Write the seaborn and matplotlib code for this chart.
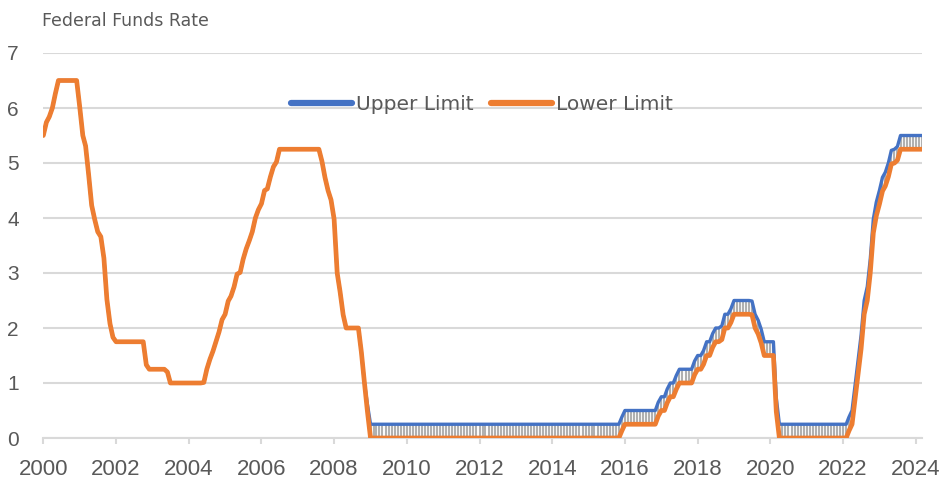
import numpy as np
import pandas as pd
import matplotlib
matplotlib.use("Agg")
import matplotlib.pyplot as plt
import seaborn as sns

# Fed funds target, monthly average, single target Jan 2000 - Nov 2008
target_2000_2008 = [
    5.5, 5.74, 5.84, 6.0, 6.26, 6.5, 6.5, 6.5, 6.5, 6.5, 6.5, 6.5,            # 2000
    6.02, 5.5, 5.31, 4.78, 4.23, 3.97, 3.75, 3.66, 3.27, 2.52, 2.08, 1.83,    # 2001
    1.75, 1.75, 1.75, 1.75, 1.75, 1.75, 1.75, 1.75, 1.75, 1.75, 1.33, 1.25,   # 2002
    1.25, 1.25, 1.25, 1.25, 1.25, 1.2, 1.0, 1.0, 1.0, 1.0, 1.0, 1.0,          # 2003
    1.0, 1.0, 1.0, 1.0, 1.0, 1.01, 1.25, 1.43, 1.58, 1.75, 1.93, 2.15,        # 2004
    2.25, 2.49, 2.58, 2.75, 2.98, 3.01, 3.25, 3.44, 3.59, 3.75, 4.0, 4.15,    # 2005
    4.26, 4.5, 4.53, 4.75, 4.93, 5.02, 5.25, 5.25, 5.25, 5.25, 5.25, 5.25,    # 2006
    5.25, 5.25, 5.25, 5.25, 5.25, 5.25, 5.25, 5.25, 5.03, 4.74, 4.5, 4.33,    # 2007
    3.98, 3.0, 2.66, 2.24, 2.0, 2.0, 2.0, 2.0, 2.0, 1.56, 1.0,                # 2008 (to Nov)
]

# target range, monthly average, Dec 2008 - Mar 2024
lower_2008_2024 = [
    0.48,                                                                     # Dec 2008
    0, 0, 0, 0, 0, 0, 0, 0, 0, 0, 0, 0,                                       # 2009
    0, 0, 0, 0, 0, 0, 0, 0, 0, 0, 0, 0,                                       # 2010
    0, 0, 0, 0, 0, 0, 0, 0, 0, 0, 0, 0,                                       # 2011
    0, 0, 0, 0, 0, 0, 0, 0, 0, 0, 0, 0,                                       # 2012
    0, 0, 0, 0, 0, 0, 0, 0, 0, 0, 0, 0,                                       # 2013
    0, 0, 0, 0, 0, 0, 0, 0, 0, 0, 0, 0,                                       # 2014
    0, 0, 0, 0, 0, 0, 0, 0, 0, 0, 0, 0.13,                                    # 2015
    0.25, 0.25, 0.25, 0.25, 0.25, 0.25, 0.25, 0.25, 0.25, 0.25, 0.25, 0.4,    # 2016
    0.5, 0.5, 0.64, 0.75, 0.75, 0.89, 1.0, 1.0, 1.0, 1.0, 1.0, 1.15,          # 2017
    1.25, 1.25, 1.34, 1.5, 1.5, 1.65, 1.75, 1.75, 1.79, 2.0, 2.0, 2.1,        # 2018
    2.25, 2.25, 2.25, 2.25, 2.25, 2.25, 2.24, 2.0, 1.89, 1.73, 1.5, 1.5,      # 2019
    1.5, 1.5, 0.48, 0, 0, 0, 0, 0, 0, 0, 0, 0,                                # 2020
    0, 0, 0, 0, 0, 0, 0, 0, 0, 0, 0, 0,                                       # 2021
    0, 0, 0.13, 0.25, 0.7, 1.15, 1.62, 2.25, 2.5, 3.0, 3.73, 4.04,            # 2022
    4.25, 4.49, 4.58, 4.75, 4.98, 5.0, 5.05, 5.25, 5.25, 5.25, 5.25, 5.25,    # 2023
    5.25, 5.25, 5.25,                                                         # 2024
]
upper_2008_2024 = [
    0.61,                                                                     # Dec 2008
    0.25, 0.25, 0.25, 0.25, 0.25, 0.25, 0.25, 0.25, 0.25, 0.25, 0.25, 0.25,   # 2009
    0.25, 0.25, 0.25, 0.25, 0.25, 0.25, 0.25, 0.25, 0.25, 0.25, 0.25, 0.25,   # 2010
    0.25, 0.25, 0.25, 0.25, 0.25, 0.25, 0.25, 0.25, 0.25, 0.25, 0.25, 0.25,   # 2011
    0.25, 0.25, 0.25, 0.25, 0.25, 0.25, 0.25, 0.25, 0.25, 0.25, 0.25, 0.25,   # 2012
    0.25, 0.25, 0.25, 0.25, 0.25, 0.25, 0.25, 0.25, 0.25, 0.25, 0.25, 0.25,   # 2013
    0.25, 0.25, 0.25, 0.25, 0.25, 0.25, 0.25, 0.25, 0.25, 0.25, 0.25, 0.25,   # 2014
    0.25, 0.25, 0.25, 0.25, 0.25, 0.25, 0.25, 0.25, 0.25, 0.25, 0.25, 0.38,   # 2015
    0.5, 0.5, 0.5, 0.5, 0.5, 0.5, 0.5, 0.5, 0.5, 0.5, 0.5, 0.65,              # 2016
    0.75, 0.75, 0.89, 1.0, 1.0, 1.14, 1.25, 1.25, 1.25, 1.25, 1.25, 1.4,      # 2017
    1.5, 1.5, 1.59, 1.75, 1.75, 1.9, 2.0, 2.0, 2.04, 2.25, 2.25, 2.35,        # 2018
    2.5, 2.5, 2.5, 2.5, 2.5, 2.5, 2.49, 2.25, 2.14, 1.98, 1.75, 1.75,         # 2019
    1.75, 1.75, 0.73, 0.25, 0.25, 0.25, 0.25, 0.25, 0.25, 0.25, 0.25, 0.25,   # 2020
    0.25, 0.25, 0.25, 0.25, 0.25, 0.25, 0.25, 0.25, 0.25, 0.25, 0.25, 0.25,   # 2021
    0.25, 0.25, 0.38, 0.5, 0.95, 1.4, 1.87, 2.5, 2.75, 3.25, 3.98, 4.29,      # 2022
    4.5, 4.74, 4.83, 5.0, 5.23, 5.25, 5.3, 5.5, 5.5, 5.5, 5.5, 5.5,           # 2023
    5.5, 5.5, 5.5,                                                            # 2024
]

year_ticks = [2000, 2002, 2004, 2006, 2008, 2010, 2012, 2014, 2016, 2018, 2020, 2022, 2024]
rate_ticks = [0, 1, 2, 3, 4, 5, 6, 7]

dates = pd.date_range("2000-01-01", "2024-03-01", freq="MS")
df = pd.DataFrame({
    "date": dates,
    "Upper Limit": target_2000_2008 + upper_2008_2024,
    "Lower Limit": target_2000_2008 + lower_2008_2024,
})

sns.set_style("white")
tick_font = ["Liberation Sans", "DejaVu Sans"]
grey_text = "#595959"
grid_col = "#D9D9D9"

fig = plt.figure(figsize=(9.43, 4.79), dpi=100)
ax = fig.add_axes([43.3 / 943, (479 - 438) / 479, (921.7 - 43.3) / 943, (438 - 53) / 479])

# high-low lines between the two series
ax.vlines(df["date"], df["Lower Limit"], df["Upper Limit"], colors="#B0B0B0",
          linewidth=1.5, zorder=1)
sns.lineplot(data=df, x="date", y="Upper Limit", color="#4472C4", linewidth=2.4,
             ax=ax, label="Upper Limit", zorder=3)
sns.lineplot(data=df, x="date", y="Lower Limit", color="#ED7D31", linewidth=3.4,
             ax=ax, label="Lower Limit", zorder=4)
for ln in ax.get_lines():
    ln.set_solid_joinstyle("round")
    ln.set_solid_capstyle("round")

ax.set_xlim(dates[0], dates[-1])
ax.set_ylim(0, 7)
ax.set_xticks([pd.Timestamp(f"{y}-01-01") for y in year_ticks])
ax.set_xticklabels([str(y) for y in year_ticks])
ax.set_yticks(rate_ticks)
ax.set_yticklabels([str(v) for v in rate_ticks])
ax.set_xlabel("")
ax.set_ylabel("")

ax.yaxis.grid(True, color=grid_col, linewidth=1.5)
ax.xaxis.grid(False)
ax.set_axisbelow(True)
for s in ["top", "right", "left"]:
    ax.spines[s].set_visible(False)
ax.spines["bottom"].set_color(grid_col)
ax.spines["bottom"].set_linewidth(1.5)
ax.tick_params(axis="x", which="major", bottom=True, length=4, width=1.5, color=grid_col,
               pad=11, labelsize=16, labelcolor=grey_text)
ax.tick_params(axis="y", left=False, pad=14, labelsize=15, labelcolor=grey_text)
for t in ax.get_xticklabels() + ax.get_yticklabels():
    t.set_family(tick_font)

fig.text(42 / 943, 1 - 21 / 479, "Federal Funds Rate", ha="left", va="center",
         fontsize=12.5, color=grey_text, family="DejaVu Sans")

leg = ax.legend(loc="center", bbox_to_anchor=(0.4995, 0.865), ncol=2, frameon=False,
                fontsize=14.5, handlelength=3.0, handletextpad=0.2, columnspacing=0.9)
for txt in leg.get_texts():
    txt.set_color(grey_text)
for h in leg.get_lines():
    h.set_linewidth(4.5)
    h.set_solid_capstyle("round")

fig.savefig("out.png", dpi=100)
